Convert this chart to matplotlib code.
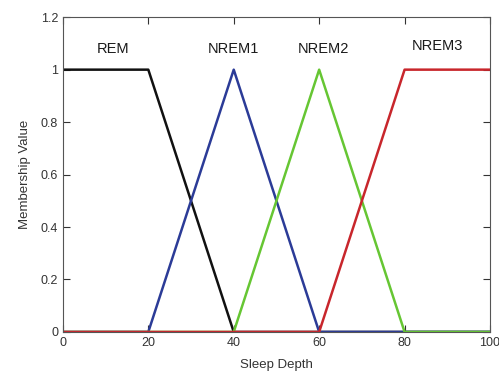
import matplotlib
matplotlib.use('Agg')
import matplotlib.pyplot as plt

plt.rcParams['font.family'] = ['Liberation Sans', 'DejaVu Sans']

# membership function breakpoints
rem_x = [0, 20, 40, 100]
rem_y = [1, 1, 0, 0]
nrem1_x = [0, 20, 40, 60, 100]
nrem1_y = [0, 0, 1, 0, 0]
nrem2_x = [0, 40, 60, 80, 100]
nrem2_y = [0, 0, 1, 0, 0]
nrem3_x = [0, 60, 80, 100]
nrem3_y = [0, 0, 1, 1]

labels = ['REM', 'NREM1', 'NREM2', 'NREM3']
label_x = [11.7, 40, 60.9, 87.6]
label_y = [1.08, 1.08, 1.08, 1.09]

fig = plt.figure(figsize=(4.99, 3.82), dpi=100)
ax = fig.add_axes([0.126, 0.131, 0.856, 0.824])

ax.plot(rem_x, rem_y, color='#111111', lw=1.8)
ax.plot(nrem1_x, nrem1_y, color='#2b3b97', lw=1.8)
ax.plot(nrem2_x, nrem2_y, color='#66c633', lw=1.8)
ax.plot(nrem3_x, nrem3_y, color='#c8262c', lw=1.8)

for t, x, y in zip(labels, label_x, label_y):
    ax.text(x, y, t, ha='center', va='center', fontsize=10.5, color='#1a1a1a')

ax.set_xlim(0, 100)
ax.set_ylim(0, 1.2)
ax.set_xticks([0, 20, 40, 60, 80, 100])
ax.set_yticks([0, 0.2, 0.4, 0.6, 0.8, 1, 1.2])
ax.set_yticklabels(['0', '0.2', '0.4', '0.6', '0.8', '1', '1.2'])
ax.tick_params(direction='in', top=True, right=True, length=5, labelsize=9,
               colors='#333333')
for s in ax.spines.values():
    s.set_color('#555555')
ax.set_xlabel('Sleep Depth', fontsize=9.5, color='#333333', labelpad=7)
ax.set_ylabel('Membership Value', fontsize=9.5, color='#333333', labelpad=7)

fig.savefig('out.png', dpi=100)
